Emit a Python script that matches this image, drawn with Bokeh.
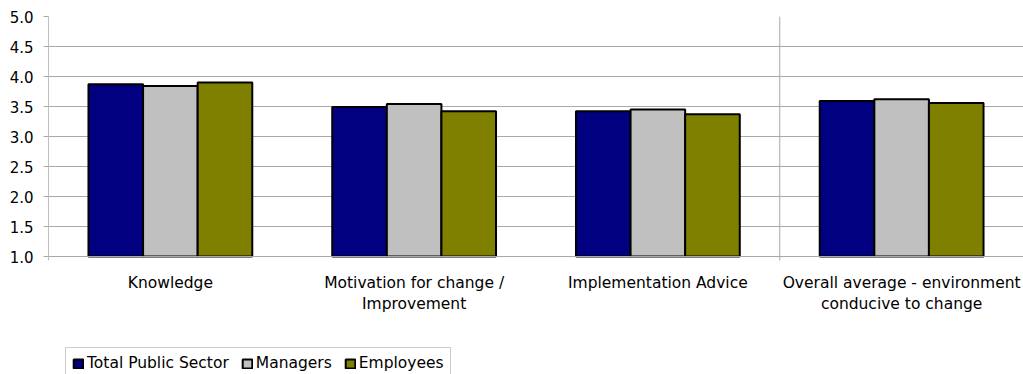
from bokeh.plotting import figure
from bokeh.models import (FactorRange, Range1d, FixedTicker, NumeralTickFormatter,
                          Legend, LegendItem, ColumnDataSource)
from bokeh.transform import dodge
from bokeh.embed import file_html
from bokeh.resources import INLINE

categories = ["Knowledge", "Motivation for change /\nImprovement",
              "Implementation Advice", "Overall average - environment\nconducive to change"]
series_names = ["Total Public Sector", "Managers", "Employees"]
total_public_sector = [3.87, 3.49, 3.42, 3.59]
managers = [3.84, 3.54, 3.45, 3.62]
employees = [3.90, 3.42, 3.37, 3.56]
y_ticks = [1.0, 1.5, 2.0, 2.5, 3.0, 3.5, 4.0, 4.5, 5.0]

colors = ["#000080", "#c0c0c0", "#808000"]
FONT = "DejaVu Sans"
GRID = "#a8a8a8"

W, H = 1023, 374
top_px, plot_bottom_px, left_px = 16, 256, 48
y0, y1 = y_ticks[0], y_ticks[-1]
px_per_unit = (plot_bottom_px - top_px) / (y1 - y0)
y_start = y0 - (H - plot_bottom_px) / px_per_unit

source = ColumnDataSource(data=dict(cat=categories, tps=total_public_sector,
                                    mgr=managers, emp=employees))

p = figure(x_range=FactorRange(*categories, range_padding=0), y_range=Range1d(y_start, y1),
           width=W, height=H, output_backend="svg", toolbar_location=None,
           min_border_left=left_px, min_border_right=0, min_border_top=top_px, min_border_bottom=0)
p.outline_line_color = None
p.background_fill_color = "white"
p.border_fill_color = "white"

bw = 0.224
renderers = []
for col, off, c in zip(["tps", "mgr", "emp"], [-bw, 0, bw], colors):
    r = p.vbar(x=dodge("cat", off, range=p.x_range), top=col, bottom=y0, width=bw,
               source=source, fill_color=c, line_color="black", line_width=2)
    renderers.append(r)

ext = 4 / px_per_unit

# grid and axes
p.xgrid.grid_line_color = None
p.ygrid.grid_line_color = GRID
p.ygrid.grid_line_width = 1
p.yaxis.ticker = FixedTicker(ticks=y_ticks)
p.yaxis.formatter = NumeralTickFormatter(format="0.0")
p.yaxis.bounds = (y0 - ext, y1)
p.yaxis.axis_line_color = "#c0c0c0"
p.yaxis.major_tick_line_color = GRID
p.yaxis.major_tick_out = 5
p.yaxis.major_tick_in = 0
p.yaxis.minor_tick_line_color = None
p.yaxis.major_label_standoff = 10
p.yaxis.major_label_text_font = FONT
p.yaxis.major_label_text_font_size = "15px"
p.yaxis.major_label_text_color = "black"

p.xaxis.fixed_location = y0
p.xaxis.axis_line_color = GRID
p.xaxis.major_tick_line_color = None
p.xaxis.major_label_standoff = 11
p.xaxis.major_label_text_font = FONT
p.xaxis.major_label_text_font_size = "15.5px"
p.xaxis.major_label_text_color = "black"
p.xaxis.major_label_text_line_height = 1.2

# category separator (slightly extending below the baseline)
p.segment(x0=[3], y0=[y0 - ext], x1=[3], y1=[y1], line_color=GRID, line_width=1)

legend = Legend(items=[LegendItem(label=n, renderers=[r]) for n, r in zip(series_names, renderers)],
                orientation="horizontal", location=(17, -5), margin=0, padding=6,
                spacing=12, label_standoff=3, glyph_width=12, glyph_height=11,
                label_text_font=FONT, label_text_font_size="15.5px", label_text_color="black",
                border_line_color="#999999", border_line_width=1,
                background_fill_color="white", background_fill_alpha=1.0)
p.add_layout(legend, "center")

open("out.html", "w").write(file_html(p, INLINE))
